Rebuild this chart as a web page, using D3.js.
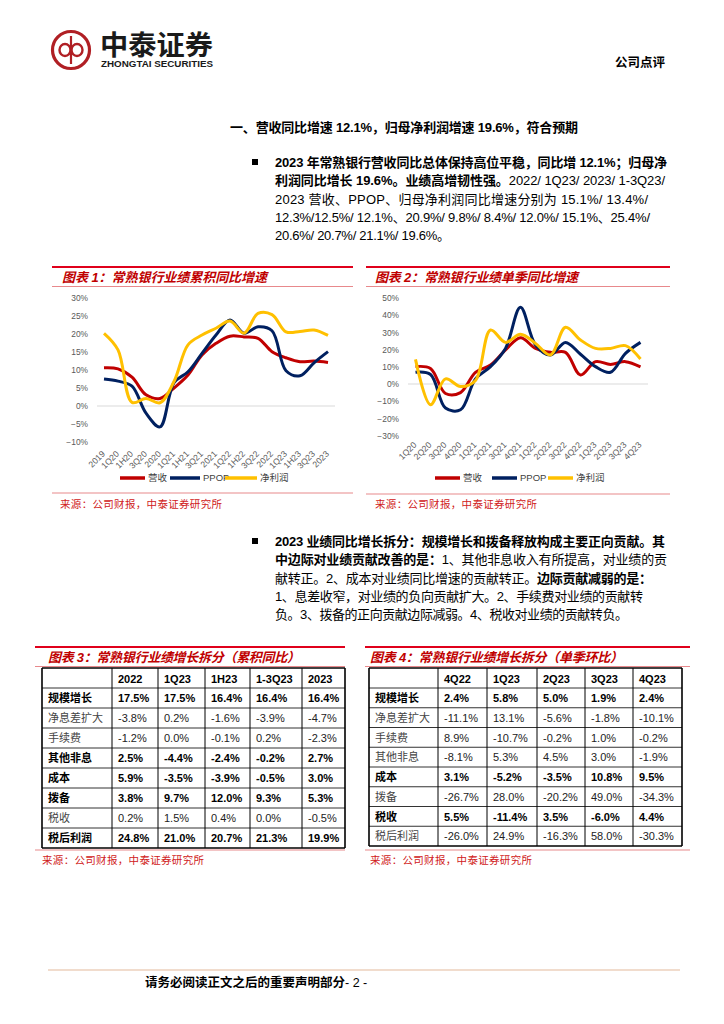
<!DOCTYPE html>
<html>
<head>
<meta charset="utf-8">
<script src="https://cdn.jsdelivr.net/npm/d3@7"></script>
<style>
body { margin: 0; background: #fff; }
svg { display: block; }
</style>
</head>
<body>
<svg id="page"></svg>
<script>
// ---- data ----
const cumCats = ["2019", "1Q20", "1H20", "3Q20", "2020", "1Q21", "1H21", "3Q21", "2021", "1Q22", "1H22", "3Q22", "2022", "1Q23", "1H23", "3Q23", "2023"];
const cumRevenue = [10.6, 10.3, 8.0, 3.1, 2.1, 5.0, 8.6, 14.2, 17.4, 19.4, 19.2, 18.8, 15.1, 13.4, 12.3, 12.5, 12.1];
const cumPpop = [7.5, 6.9, 5.5, -2.0, -5.8, 6.5, 9.5, 14.6, 19.7, 23.9, 20.2, 22.0, 20.9, 9.8, 8.4, 12.0, 15.1];
const cumProfit = [20.2, 15.6, 1.0, 2.1, 0.9, 6.8, 17.0, 19.7, 21.6, 23.6, 20.2, 25.7, 25.4, 20.6, 20.7, 21.1, 19.6];

const qCats = ["1Q20", "2Q20", "3Q20", "4Q20", "1Q21", "2Q21", "3Q21", "4Q21", "1Q22", "2Q22", "3Q22", "4Q22", "1Q23", "2Q23", "3Q23", "4Q23"];
const qRevenue = [10.1, 9.0, -5.5, -5.0, 6.8, 11.0, 19.8, 26.9, 20.7, 18.4, 18.4, 5.2, 13.0, 11.4, 13.0, 10.0];
const qPpop = [6.8, 5.5, -14.0, -15.0, 3.0, 10.1, 20.7, 44.6, 22.7, 16.9, 24.2, 17.3, 10.1, 6.8, 17.8, 24.2];
const qProfit = [14.3, -12.0, 3.0, -1.5, 2.0, 31.4, 24.2, 28.9, 23.6, 16.9, 33.0, 25.6, 20.7, 20.7, 22.3, 14.5];

const seriesNames = ["营收", "PPOP", "净利润"];

const t3Cols = ["2022", "1Q23", "1H23", "1-3Q23", "2023"];
const t3Rows = ["规模增长", "净息差扩大", "手续费", "其他非息", "成本", "拨备", "税收", "税后利润"];
const t3Bold = [true, false, false, true, true, true, false, true];
const t3Values = [
  ["17.5%", "17.5%", "16.4%", "16.4%", "16.4%"],
  ["-3.8%", "0.2%", "-1.6%", "-3.9%", "-4.7%"],
  ["-1.2%", "0.0%", "-0.1%", "0.2%", "-2.3%"],
  ["2.5%", "-4.4%", "-2.4%", "-0.2%", "2.7%"],
  ["5.9%", "-3.5%", "-3.9%", "-0.5%", "3.0%"],
  ["3.8%", "9.7%", "12.0%", "9.3%", "5.3%"],
  ["0.2%", "1.5%", "0.4%", "0.0%", "-0.5%"],
  ["24.8%", "21.0%", "20.7%", "21.3%", "19.9%"]
];

const t4Cols = ["4Q22", "1Q23", "2Q23", "3Q23", "4Q23"];
const t4Rows = ["规模增长", "净息差扩大", "手续费", "其他非息", "成本", "拨备", "税收", "税后利润"];
const t4Bold = [true, false, false, false, true, false, true, false];
const t4Values = [
  ["2.4%", "5.8%", "5.0%", "1.9%", "2.4%"],
  ["-11.1%", "13.1%", "-5.6%", "-1.8%", "-10.1%"],
  ["8.9%", "-10.7%", "-0.2%", "1.0%", "-0.2%"],
  ["-8.1%", "5.3%", "4.5%", "3.0%", "-1.9%"],
  ["3.1%", "-5.2%", "-3.5%", "10.8%", "9.5%"],
  ["-26.7%", "28.0%", "-20.2%", "49.0%", "-34.3%"],
  ["5.5%", "-11.4%", "3.5%", "-6.0%", "4.4%"],
  ["-26.0%", "24.9%", "-16.3%", "58.0%", "-30.3%"]
];

const heading = "一、营收同比增速 12.1%，归母净利润增速 19.6%，符合预期";
const para1 = [
  [["2023 年常熟银行营收同比总体保持高位平稳，同比增 12.1%；归母净", true]],
  [["利润同比增长 19.6%。业绩高增韧性强。", true], ["2022/ 1Q23/ 2023/ 1-3Q23/", false]],
  [["2023 营收、PPOP、归母净利润同比增速分别为 15.1%/ 13.4%/", false]],
  [["12.3%/12.5%/ 12.1%、20.9%/ 9.8%/ 8.4%/ 12.0%/ 15.1%、25.4%/", false]],
  [["20.6%/ 20.7%/ 21.1%/ 19.6%。", false]]
];
const para2 = [
  [["2023 业绩同比增长拆分：规模增长和拨备释放构成主要正向贡献。其", true]],
  [["中边际对业绩贡献改善的是：", true], ["1、其他非息收入有所提高，对业绩的贡", false]],
  [["献转正。2、成本对业绩同比增速的贡献转正。", false], ["边际贡献减弱的是：", true]],
  [["1、息差收窄，对业绩的负向贡献扩大。2、手续费对业绩的贡献转", false]],
  [["负。3、拨备的正向贡献边际减弱。4、税收对业绩的贡献转负。", false]]
];

// ---- layout ----
const SVG_W = 724, SVG_H = 1024;
const RED = "#c00000";
const NAVY = "#002060";
const GOLD = "#ffc000";
const FONT = "'Liberation Sans', Arial, 'Noto Sans CJK SC', sans-serif";
const LINE_COLORS = [RED, NAVY, GOLD];

const svg = d3.select("#page").attr("width", SVG_W).attr("height", SVG_H)
  .style("font-family", FONT);
svg.append("rect").attr("width", SVG_W).attr("height", SVG_H).attr("fill", "#fff");

// Header / logo
const logo = svg.append("g");
logo.append("circle").attr("cx", 71).attr("cy", 50).attr("r", 18.5)
  .attr("fill", "none").attr("stroke", "#b01f24").attr("stroke-width", 3.2);
logo.append("line").attr("x1", 71).attr("x2", 71).attr("y1", 36).attr("y2", 64)
  .attr("stroke", "#b01f24").attr("stroke-width", 2.2);
[65, 77].forEach(function(cx) {
  logo.append("ellipse").attr("cx", cx).attr("cy", 50).attr("rx", 5.5).attr("ry", 6)
    .attr("fill", "none").attr("stroke", "#b01f24").attr("stroke-width", 2.4);
});
logo.append("text").attr("x", 100).attr("y", 55).attr("font-size", 27).attr("font-weight", 700)
  .attr("fill", "#1a1a1a").attr("textLength", 113).attr("lengthAdjust", "spacingAndGlyphs")
  .text("中泰证券");
logo.append("text").attr("x", 101).attr("y", 67).attr("font-size", 8.5).attr("font-weight", 700)
  .attr("fill", "#1a1a1a").attr("textLength", 112).attr("lengthAdjust", "spacingAndGlyphs")
  .text("ZHONGTAI SECURITIES");
svg.append("text").attr("x", 615).attr("y", 67).attr("font-size", 12.5).attr("font-weight", 700)
  .text("公司点评");

// Body text
svg.append("text").attr("x", 230).attr("y", 132).attr("font-size", 13).attr("font-weight", 700)
  .attr("textLength", 348).attr("lengthAdjust", "spacing").text(heading);

function drawParagraph(lines, top, lengths) {
  svg.append("rect").attr("x", 252).attr("y", top - 8).attr("width", 6).attr("height", 6).attr("fill", "#000");
  lines.forEach(function(line, i) {
    const t = svg.append("text").attr("x", 275).attr("y", top + i * 18.35).attr("font-size", 13)
      .attr("textLength", lengths[i]).attr("lengthAdjust", "spacing");
    line.forEach(function(seg) {
      t.append("tspan").attr("font-weight", seg[1] ? 700 : 400).text(seg[0]);
    });
  });
}
drawParagraph(para1, 167, [392, 390, 373, 375, 175]);
drawParagraph(para2, 546, [390, 392, 377, 368, 353]);

// Section frames: title bar and source line
function frame(cfg) {
  svg.append("line").attr("x1", cfg.x0).attr("x2", cfg.x1).attr("y1", cfg.top).attr("y2", cfg.top)
    .attr("stroke", "#e0001b").attr("stroke-width", 2);
  svg.append("text").attr("x", cfg.titleX).attr("y", cfg.top + 15).attr("font-size", 13)
    .attr("font-weight", 700).attr("font-style", "italic").attr("fill", "#c00000")
    .attr("textLength", cfg.titleLen).attr("lengthAdjust", "spacing").text(cfg.title);
  svg.append("line").attr("x1", cfg.x0).attr("x2", cfg.x1).attr("y1", cfg.top + 19.5).attr("y2", cfg.top + 19.5)
    .attr("stroke", "#e8898c").attr("stroke-width", 1);
  svg.append("line").attr("x1", cfg.x0).attr("x2", cfg.x1).attr("y1", cfg.srcLine).attr("y2", cfg.srcLine)
    .attr("stroke", "#e8898c").attr("stroke-width", 1.2);
  svg.append("text").attr("x", cfg.srcX).attr("y", cfg.srcY).attr("font-size", 10.5)
    .attr("fill", "#d02020").attr("textLength", 162).attr("lengthAdjust", "spacing")
    .text("来源：公司财报，中泰证券研究所");
}

frame({x0: 52, x1: 353, top: 267, title: "图表 1：常熟银行业绩累积同比增速", titleX: 62, titleLen: 205, srcLine: 493, srcX: 60, srcY: 508});
frame({x0: 366, x1: 670, top: 267, title: "图表 2：常熟银行业绩单季同比增速", titleX: 375, titleLen: 203, srcLine: 494, srcX: 375, srcY: 508});
frame({x0: 35, x1: 345, top: 647, title: "图表 3：常熟银行业绩增长拆分（累积同比）", titleX: 48, titleLen: 252, srcLine: 850, srcX: 42, srcY: 864});
frame({x0: 365, x1: 690, top: 647, title: "图表 4：常熟银行业绩增长拆分（单季环比）", titleX: 370, titleLen: 253, srcLine: 850, srcX: 370, srcY: 864});

// Line charts
function lineChart(cfg) {
  const g = svg.append("g");
  const x = d3.scaleBand().domain(cfg.cats).range(cfg.xRange);
  const y = d3.scaleLinear().domain(cfg.yDomain).range(cfg.yRange);

  g.append("line").attr("x1", cfg.xRange[0]).attr("x2", cfg.xRange[1])
    .attr("y1", y(0)).attr("y2", y(0)).attr("stroke", "#d9d9d9").attr("stroke-width", 1);

  const yAxis = g.append("g").attr("transform", "translate(" + (cfg.xRange[0] - 6) + ",0)")
    .call(d3.axisLeft(y).tickValues(cfg.yTicks).tickSize(0).tickPadding(3)
      .tickFormat(function(d) { return d3.format("d")(d) + "%"; }));
  yAxis.select(".domain").remove();
  yAxis.selectAll("text").attr("font-size", 8.4).attr("fill", "#595959").attr("font-family", FONT);

  const xAxis = g.append("g").attr("transform", "translate(0," + cfg.xAxisY + ")")
    .call(d3.axisBottom(x).tickSize(0).tickPadding(0));
  xAxis.select(".domain").remove();
  xAxis.selectAll("text").attr("font-size", 8.6).attr("fill", "#595959").attr("font-family", FONT)
    .attr("text-anchor", "end").attr("x", -2).attr("y", 0).attr("dy", "0.5em")
    .attr("transform", "rotate(-45)");

  const line = d3.line()
    .x(function(d, i) { return x(cfg.cats[i]) + x.bandwidth() / 2; })
    .y(function(d) { return y(d); })
    .curve(d3.curveCatmullRom.alpha(0.5));

  cfg.series.forEach(function(s, k) {
    g.append("path").datum(s).attr("d", line).attr("fill", "none")
      .attr("stroke", LINE_COLORS[k]).attr("stroke-width", 3).attr("stroke-linejoin", "round");
  });

  const leg = g.append("g");
  cfg.legend.forEach(function(p, k) {
    leg.append("line").attr("x1", p[0]).attr("x2", p[1]).attr("y1", cfg.legendY).attr("y2", cfg.legendY)
      .attr("stroke", LINE_COLORS[k]).attr("stroke-width", 3.5);
    leg.append("text").attr("x", p[1] + 3).attr("y", cfg.legendY + 3.3).attr("font-size", 9.5)
      .attr("fill", "#404040").text(seriesNames[k]);
  });
}

lineChart({
  cats: cumCats, series: [cumRevenue, cumPpop, cumProfit],
  xRange: [97, 335], yDomain: [-10, 30], yRange: [442, 298],
  yTicks: [-10, -5, 0, 5, 10, 15, 20, 25, 30], xAxisY: 450,
  legendY: 478, legend: [[120, 145], [170, 200], [225, 257]]
});
lineChart({
  cats: qCats, series: [qRevenue, qPpop, qProfit],
  xRange: [408, 648], yDomain: [-30, 50], yRange: [435.6, 298],
  yTicks: [-30, -20, -10, 0, 10, 20, 30, 40, 50], xAxisY: 441,
  legendY: 478, legend: [[435, 460], [492, 517], [548, 573]]
});

// Tables
function table(cfg) {
  const g = svg.append("g");
  const cx = cfg.colX;
  const rowY = [cfg.top, cfg.top + cfg.headH];
  for (let i = 1; i <= cfg.rows.length; i++) rowY.push(cfg.top + cfg.headH + i * cfg.rowH);
  const bottom = rowY[rowY.length - 1];

  rowY.forEach(function(yy, i) {
    const edge = i === 0 || i === rowY.length - 1;
    g.append("line").attr("x1", cx[0]).attr("x2", cx[cx.length - 1]).attr("y1", yy).attr("y2", yy)
      .attr("stroke", edge ? "#000" : "#333").attr("stroke-width", edge ? 1.6 : 1);
  });
  cx.forEach(function(xx, i) {
    const edge = i === 0 || i === cx.length - 1;
    g.append("line").attr("x1", xx).attr("x2", xx).attr("y1", cfg.top).attr("y2", bottom)
      .attr("stroke", "#000").attr("stroke-width", edge ? 1.6 : 1);
  });

  cfg.cols.forEach(function(c, j) {
    g.append("text").attr("x", cx[j + 1] + 6).attr("y", cfg.top + 14.5).attr("font-size", 11)
      .attr("font-weight", 700).text(c);
  });
  cfg.rows.forEach(function(r, i) {
    const yy = rowY[i + 1] + 14;
    const b = cfg.bold[i];
    g.append("text").attr("x", cx[0] + 6).attr("y", yy).attr("font-size", 11)
      .attr("font-weight", b ? 700 : 400).attr("fill", b ? "#000" : "#444").text(r);
    cfg.values[i].forEach(function(v, j) {
      g.append("text").attr("x", cx[j + 1] + 6).attr("y", yy).attr("font-size", 11)
        .attr("font-weight", b ? 700 : 400).attr("fill", b ? "#000" : "#222").text(v);
    });
  });
}

table({colX: [42, 112, 158, 205, 250, 302, 345], top: 668, headH: 20, rowH: 20,
  cols: t3Cols, rows: t3Rows, bold: t3Bold, values: t3Values});
table({colX: [369, 438, 487, 537, 585, 633, 682], top: 668, headH: 20, rowH: 19.75,
  cols: t4Cols, rows: t4Rows, bold: t4Bold, values: t4Values});

// Footer
svg.append("line").attr("x1", 48).attr("x2", 680).attr("y1", 970).attr("y2", 970)
  .attr("stroke", "#ecd0bd").attr("stroke-width", 1.5);
const foot = svg.append("text").attr("x", 145).attr("y", 987).attr("font-size", 12.5);
foot.append("tspan").attr("font-weight", 700).text("请务必阅读正文之后的重要声明部分");
foot.append("tspan").text("- 2 -");
</script>
</body>
</html>
